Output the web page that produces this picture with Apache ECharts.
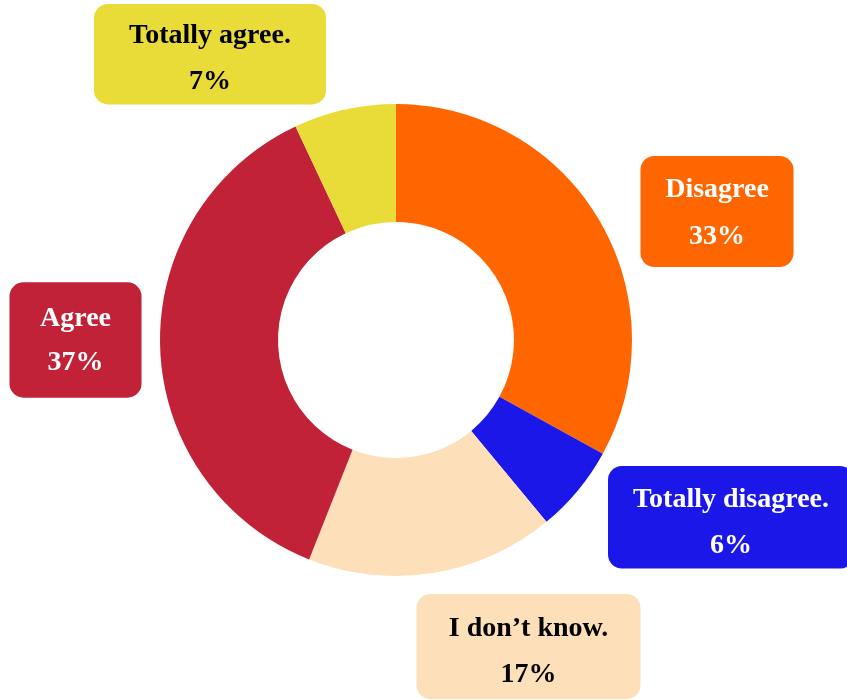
<!DOCTYPE html>
<html>
<head>
<meta charset="utf-8">
<title>Survey responses</title>
<script src="https://cdn.jsdelivr.net/npm/echarts@6/dist/echarts.min.js"></script>
<style>
  html, body { margin: 0; padding: 0; background: #ffffff; }
  #chart { width: 847px; height: 700px; }
</style>
</head>
<body>
<div id="chart"></div>
<script>
// Answer categories, clockwise from 12 o'clock
const categories = ['Disagree', 'Totally disagree.', 'I don\u2019t know.', 'Agree', 'Totally agree.'];
// Share of answers, in percent
const shares = [33, 6, 17, 37, 7];
// Slice fill colours
const sliceColors = ['#FF6600', '#1A17E8', '#FDDFB9', '#C22237', '#EADC38'];
// Label text colours (white on dark slices, black on light ones)
const labelTextColors = ['#ffffff', '#ffffff', '#000000', '#ffffff', '#000000'];

// Label box layout: centre of each box, box width, text line height,
// and blank space above / below the two text lines
const labelCentres = [[717, 211.5], [731, 517.25], [528.5, 646.5], [75.5, 340], [210, 54.2]];
const labelWidths = [153, 246, 224, 132, 232];
const labelLineHeights = [46.5, 46, 46, 44, 45.5];
const labelGaps = [[10.75, 7.25], [10.5, 0], [12, 1], [14.7, 12.7], [9.45, 0]];

const textFont = {
  fontFamily: '"Liberation Serif", "Times New Roman", serif',
  fontWeight: 'bold',
  fontSize: 28,
  align: 'center'
};

const seriesData = categories.map((name, i) => {
  const [gapTop, gapBottom] = labelGaps[i];
  const lh = labelLineHeights[i];
  const lines = ['{top|}', '{n|{b}}', '{v|{c}%}'];
  if (gapBottom > 0) lines.push('{bottom|}');
  const textStyle = Object.assign({ color: labelTextColors[i], lineHeight: lh }, textFont);
  return {
    name: name,
    value: shares[i],
    itemStyle: { color: sliceColors[i] },
    label: {
      formatter: lines.join('\n'),
      backgroundColor: sliceColors[i],
      width: labelWidths[i],
      rich: {
        top: { height: gapTop, lineHeight: gapTop, fontSize: 1, align: 'center' },
        n: textStyle,
        v: textStyle,
        bottom: { height: gapBottom, lineHeight: gapBottom, fontSize: 1, align: 'center' }
      }
    }
  };
});

const chart = echarts.init(document.getElementById('chart'), null, { renderer: 'canvas' });
chart.setOption({
  animation: false,
  backgroundColor: '#ffffff',
  series: [{
    type: 'pie',
    center: [396, 340],
    radius: [118, 236],
    startAngle: 90,
    clockwise: true,
    avoidLabelOverlap: false,
    data: seriesData,
    label: {
      show: true,
      position: 'outside',
      padding: 0,
      align: 'center',
      borderRadius: 14
    },
    labelLine: { show: false },
    labelLayout: function (params) {
      const c = labelCentres[params.dataIndex];
      return { x: c[0], y: c[1], align: 'center', verticalAlign: 'middle' };
    },
    emphasis: { disabled: true }
  }]
});
</script>
</body>
</html>
